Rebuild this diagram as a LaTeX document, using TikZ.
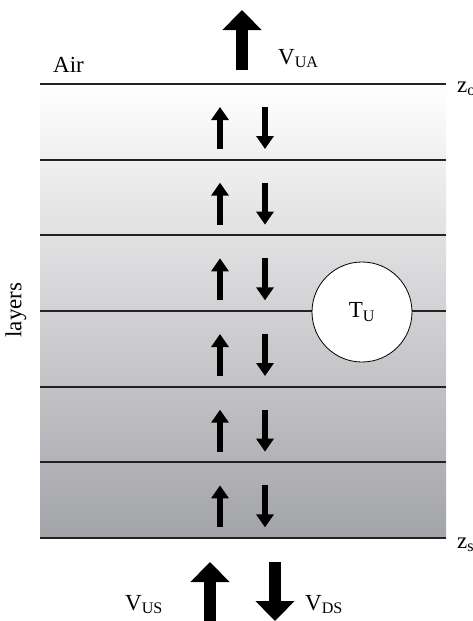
\documentclass[tikz,border=0pt]{standalone}
\usepackage{fontspec}
\setmainfont{Liberation Serif}
\usetikzlibrary{arrows.meta}
\definecolor{layerlow}{RGB}{163,164,168}
\definecolor{linegray}{RGB}{34,34,34}

\begin{document}
\begin{tikzpicture}[x=1pt, y=-1pt,
  bigarr/.style   = {line width=12pt, -{Triangle[width=38pt, length=20pt]}},
  smallarr/.style = {line width=6pt, -{Triangle[width=17pt, length=13pt]}},
  layerline/.style = {line width=1.8pt, draw=linegray},
  lbl/.style  = {font=\fontsize{23}{26}\selectfont, inner sep=0pt},
]
  \useasboundingbox (0,0) rectangle (473,621);

  % stack of layers
  \shade[top color=white, bottom color=layerlow] (40,84) rectangle (446,538);
  \foreach \i in {0,...,6}
    \draw[layerline] (40,{84+75.67*\i}) -- (446,{84+75.67*\i});
  \foreach \i in {0,...,5} {
    \draw[smallarr] (220,{84+75.67*\i+65}) -- (220,{84+75.67*\i+23});
    \draw[smallarr] (265,{84+75.67*\i+23}) -- (265,{84+75.67*\i+65});
  }

  \node[circle, draw, fill=white, line width=0.8pt, minimum size=100pt, lbl] (tu) at (362,312) {T\textsubscript{U}};

  % fluxes at the boundaries
  \coordinate (uatail) at (242,70);
  \coordinate (uahead) at (242,10);
  \coordinate (ustail) at (210,625);
  \coordinate (ushead) at (210,562);
  \coordinate (dstail) at (275,562);
  \coordinate (dshead) at (275,621);
  \draw[bigarr] (uatail) -- (uahead);
  \draw[bigarr] (ustail) -- (ushead);
  \draw[bigarr] (dstail) -- (dshead);

  \node[lbl, anchor=base west] (air) at (53,72) {Air};
  \node[lbl, anchor=base west] (vua) at (278,64) {V\textsubscript{UA}};
  \node[lbl, anchor=base west] (vus) at (125,610) {V\textsubscript{US}};
  \node[lbl, anchor=base west] (vds) at (305,610) {V\textsubscript{DS}};
  \node[lbl, anchor=base west] (zo) at (457,92) {z\textsubscript{o}};
  \node[lbl, anchor=base west] (zs) at (457,548) {z\textsubscript{s}};
  \node[lbl, rotate=90] (layers) at (16,310) {layers};
\end{tikzpicture}
\end{document}
